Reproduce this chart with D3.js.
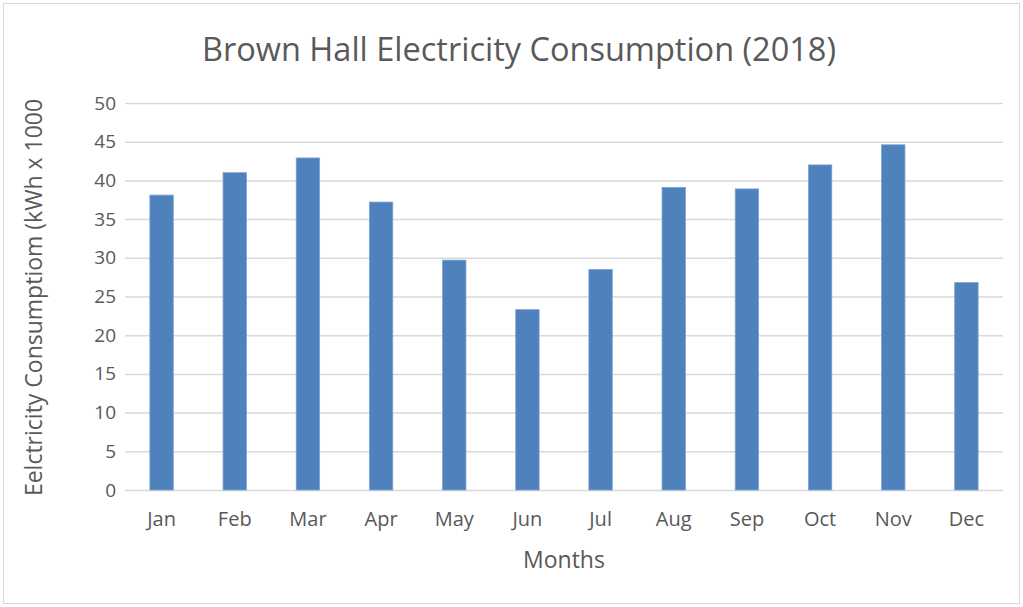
<!DOCTYPE html>
<html>
<head>
<meta charset="utf-8">
<script src="https://cdn.jsdelivr.net/npm/d3@7"></script>
<style>
  html, body { margin: 0; padding: 0; background: #fff; }
  svg { display: block; }
  text { font-family: "Open Sans", "Noto Sans", sans-serif; fill: #595959; }
</style>
</head>
<body>
<svg id="chart" width="1023" height="607"></svg>
<script>
// Monthly electricity use, thousands of kWh
const months = ["Jan", "Feb", "Mar", "Apr", "May", "Jun", "Jul", "Aug", "Sep", "Oct", "Nov", "Dec"];
const consumption = [38.1, 41.0, 42.9, 37.2, 29.7, 23.3, 28.5, 39.1, 38.9, 42.0, 44.6, 26.8];
const yTicks = [0, 5, 10, 15, 20, 25, 30, 35, 40, 45, 50];

const titleText = "Brown Hall Electricity Consumption (2018)";
const xTitle = "Months";
const yTitle = "Eelctricity Consumptiom (kWh x 1000";

const svg = d3.select("#chart");
const W = 1023, H = 607;
const margin = { left: 125, right: 20, top: 103, bottom: 117 };
const plotW = W - margin.left - margin.right;
const plotH = H - margin.top - margin.bottom;

// chart border
svg.append("rect")
  .attr("x", 3.5).attr("y", 3.5)
  .attr("width", W - 7).attr("height", H - 7)
  .attr("fill", "#fff").attr("stroke", "#d9d9d9").attr("stroke-width", 1);

const x = d3.scaleBand().domain(months).range([0, plotW]).paddingInner(0.68).paddingOuter(0.34);
const y = d3.scaleLinear().domain([0, 50]).range([plotH, 0]);

const g = svg.append("g").attr("transform", `translate(${margin.left},${margin.top})`);

// horizontal gridlines and y tick labels
const yAxis = g.append("g")
  .call(d3.axisLeft(y).tickValues(yTicks).tickSize(-plotW).tickPadding(9));
yAxis.select(".domain").remove();
yAxis.selectAll(".tick line").attr("stroke", "#d9d9d9").attr("stroke-width", 1.5);
yAxis.selectAll(".tick text")
  .style("font-family", "'Open Sans', sans-serif")
  .style("font-size", "19px").attr("fill", "#595959");

// category labels along the bottom
const xAxis = g.append("g")
  .attr("transform", `translate(0,${plotH})`)
  .call(d3.axisBottom(x).tickSize(0).tickPadding(22));
xAxis.select(".domain").remove();
xAxis.selectAll(".tick text")
  .style("font-family", "'Open Sans', sans-serif")
  .style("font-size", "20px").attr("fill", "#595959");

// bars
g.selectAll("rect.bar")
  .data(months.map((m, i) => ({ m, v: consumption[i] })))
  .join("rect")
  .attr("class", "bar")
  .attr("x", d => x(d.m))
  .attr("y", d => y(d.v))
  .attr("width", x.bandwidth())
  .attr("height", d => plotH - y(d.v))
  .attr("fill", "#4f81bd")
  .attr("stroke", "#7ea2d1")
  .attr("stroke-width", 0.8);

// titles
svg.append("text")
  .attr("x", 519).attr("y", 61)
  .attr("text-anchor", "middle")
  .style("font-size", "32.5px")
  .text(titleText);

svg.append("text")
  .attr("x", margin.left + plotW / 2).attr("y", 568)
  .attr("text-anchor", "middle")
  .style("font-size", "23px")
  .text(xTitle);

svg.append("text")
  .attr("transform", `translate(42,${margin.top + plotH / 2 + 1}) rotate(-90)`)
  .attr("text-anchor", "middle")
  .style("font-size", "23px")
  .text(yTitle);
</script>
</body>
</html>
